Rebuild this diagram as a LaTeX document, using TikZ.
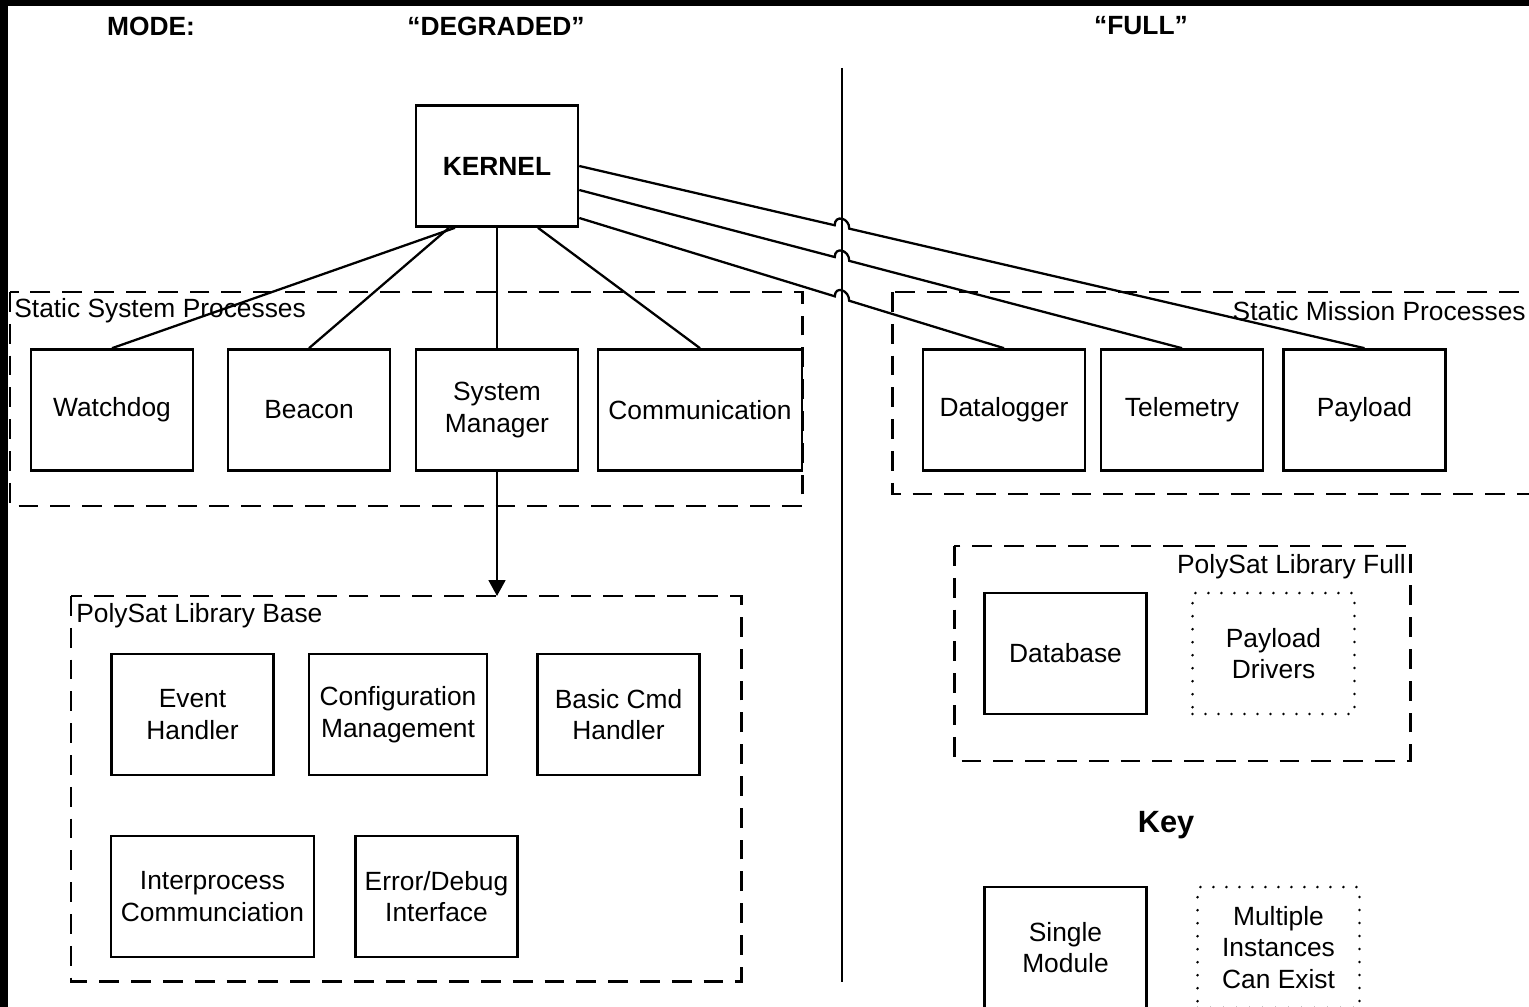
\documentclass[tikz,border=0pt]{standalone}
\usepackage{fontspec}
\setmainfont{Liberation Sans}
\usetikzlibrary{arrows.meta,calc,intersections}

\tikzset{
  module/.style={draw, line width=1.5pt, minimum width=3.24cm, minimum height=2.42cm,
                 align=center, inner sep=2pt, font=\fontsize{15}{18}\selectfont},
  multi/.style={module, line width=1.6pt, line cap=round, dash pattern=on 0pt off 7.4pt},
  group/.style={draw, line width=1.7pt, dash pattern=on 11.3pt off 6.8pt},
  grouplabel/.style={inner sep=0pt, font=\fontsize{15}{18}\selectfont},
  header/.style={font=\bfseries\fontsize{15}{18}\selectfont},
  link/.style={line width=1.3pt},
}

% link from #1 to #2 that hops over the divider; #3 names the crossing
\newcommand{\hopline}[3]{%
   \path[name path=#3] (#1) -- (#2);
   \path[name intersections={of=#3 and divider, by=#3x}];
   \draw[link] (#1) -- ($(#3x)!0.15cm!(#1)$)
         .. controls +(0,-11) and +(0,-11) .. ($(#3x)!0.15cm!(#2)$) -- (#2);
}

\begin{document}
\begin{tikzpicture}[x=0.02cm, y=-0.02cm]
   \useasboundingbox (0,0) rectangle (1529,1007);
   \clip (0,0) rectangle (1529,1007);
   \fill[black] (0,0) rectangle (1529,1007);
   \fill[white] (8,6) rectangle (1529,1007);

   % mode headers
   \node[header] (mode) at (151,26) {MODE:};
   \node[header] (degraded) at (496,26) {“DEGRADED”};
   \node[header] (full) at (1141,26) {“FULL”};

   % divider between the two modes
   \coordinate (divtop) at (842,68);
   \coordinate (divbot) at (842,982);
   \draw[link, name path=divider] (divtop) -- (divbot);

   % groups
   \draw[group] (10,292) rectangle (802,506);
   \node[grouplabel, anchor=west] (sysgroup) at (14,311) {Static System Processes};
   \draw[group] (892,292) rectangle (1560,494);
   \node[grouplabel, anchor=east] (missiongroup) at (1526,311) {Static Mission Processes};
   \draw[group] (71,596) rectangle (741,981);
   \node[grouplabel, anchor=west] (basegroup) at (76,616) {PolySat Library Base};
   \draw[group] (954,546) rectangle (1410,761);
   \node[grouplabel, anchor=east] (fullgroup) at (1406,567) {PolySat Library Full};

   % modules
   \node[module, font=\bfseries\fontsize{15}{18}\selectfont] (kernel) at (497,166) {KERNEL};
   \node[module] (watchdog) at (112,410) {Watchdog};
   \node[module] (beacon) at (309,410) {Beacon};
   \node[module] (sysmgr) at (497,410) {System\\Manager};
   \node[module, minimum width=4.08cm] (comm) at (700,410) {Communication};
   \node[module] (datalogger) at (1004,410) {Datalogger};
   \node[module] (telemetry) at (1182,410) {Telemetry};
   \node[module] (payload) at (1364.5,410) {Payload};

   \node[module] (event) at (192.5,714.5) {Event\\Handler};
   \node[module, minimum width=3.56cm] (config) at (398,714.5) {Configuration\\Management};
   \node[module] (basiccmd) at (618.5,714.5) {Basic Cmd\\Handler};
   \node[module, minimum width=4.06cm] (ipc) at (212.5,896.5) {Interprocess\\Communciation};
   \node[module] (errdebug) at (436.5,896.5) {Error/Debug\\Interface};

   \node[module] (database) at (1065.5,653.5) {Database};
   \node[multi] (drivers) at (1273.5,653.5) {Payload\\Drivers};

   % key
   \node[font=\bfseries\fontsize{17.5}{20}\selectfont] (key) at (1166,825) {Key};
   \node[module] (single) at (1065.5,947.5) {Single\\Module};
   \node[multi] (multiple) at (1278.5,947.5) {Multiple\\Instances\\Can Exist};

   % kernel links
   \coordinate (kb1) at ($(kernel.south)+(-42,0)$);
   \coordinate (kb2) at ($(kernel.south)+(-48,0)$);
   \coordinate (kb3) at ($(kernel.south)+(41,0)$);
   \path[link] (kb1) edge (watchdog.north)
               (kb2) edge (beacon.north)
               (kernel.south) edge (sysmgr.north)
               (kb3) edge (comm.north);

   \coordinate (k1) at (kernel.east);
   \coordinate (k2) at ($(kernel.east)+(0,24)$);
   \coordinate (k3) at ($(kernel.east)+(0,52)$);
   \hopline{k1}{payload.north}{hopA}
   \hopline{k2}{telemetry.north}{hopB}
   \hopline{k3}{datalogger.north}{hopC}

   \coordinate (basetop) at (497,596);
   \draw[link, -{Triangle[length=9pt,width=9.5pt]}] (sysmgr.south) -- (basetop);
\end{tikzpicture}
\end{document}
